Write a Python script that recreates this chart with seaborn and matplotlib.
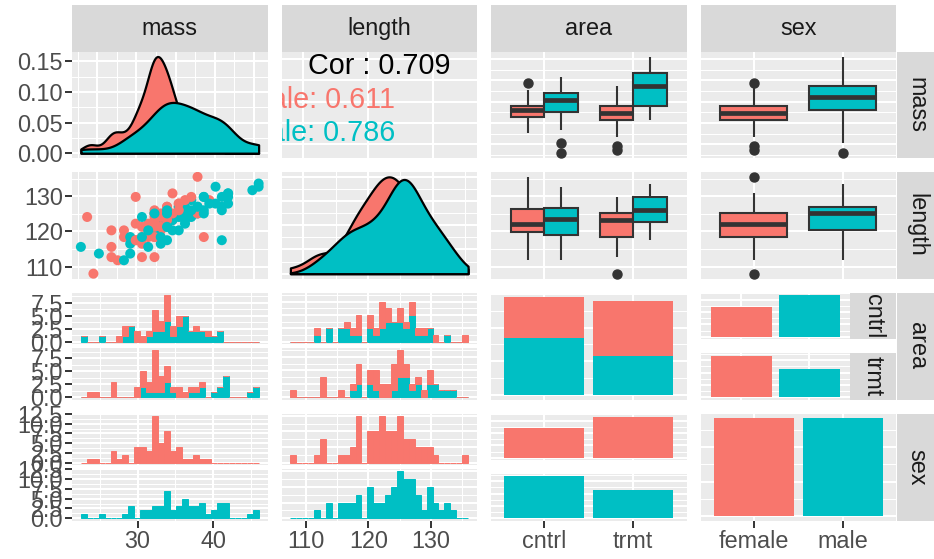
import numpy as np
import pandas as pd
import matplotlib
matplotlib.use("Agg")
import matplotlib.pyplot as plt
import seaborn as sns

# ---------------------------------------------------------------------------
# Data: one entry per individual, grouped by area and sex (mass/length paired)
# ---------------------------------------------------------------------------
cntrl_female_mass = [27.6, 28.4, 28.4, 29.9, 29.9, 30.7, 31.5, 32.3, 32.3, 32.3, 32.3, 33.1,
                     33.1, 33.9, 33.9, 33.9, 33.9, 33.9, 34.6, 34.6, 35.4, 35.4, 37.8, 39.3]
cntrl_female_length = [111.8, 120.3, 118.4, 117.5, 122.2, 116.5, 118.4, 121.3, 125.1, 118.4, 122.2, 123.2,
                       120.3, 122.2, 127.0, 125.1, 122.2, 126.0, 123.2, 130.8, 127.9, 127.0, 135.5, 128.9]

trmt_female_mass = [23.7, 24.5, 26.8, 26.8, 26.8, 29.9, 29.9, 30.7, 30.7, 30.7, 31.5, 31.5,
                    32.3, 32.3, 32.3, 32.3, 32.3, 32.3, 32.3, 32.3, 33.1, 33.1, 33.1, 33.9,
                    33.9, 33.9, 34.6, 35.4, 35.4, 36.2, 37.0, 37.8, 38.6]
trmt_female_length = [124.1, 108.0, 112.7, 115.6, 120.3, 129.8, 117.5, 112.7, 121.3, 118.4, 122.2, 120.3,
                      112.7, 118.4, 121.3, 124.1, 125.1, 123.2, 126.0, 122.2, 124.1, 125.1, 121.3, 127.0,
                      123.2, 124.1, 125.1, 126.0, 127.9, 128.9, 129.8, 125.1, 118.4]

cntrl_male_mass = [22.9, 25.2, 28.4, 29.2, 29.2, 29.2, 31.5, 32.3, 32.3, 33.1, 33.1, 33.9,
                   33.9, 33.9, 33.9, 34.6, 35.4, 35.4, 35.4, 36.2, 36.2, 36.2, 36.2, 36.2,
                   37.0, 37.0, 37.8, 37.8, 38.6, 38.6, 39.3, 40.1, 40.9, 40.9]
cntrl_male_length = [115.6, 113.7, 111.8, 118.4, 113.7, 116.5, 115.6, 120.3, 122.2, 116.5, 123.2, 117.5,
                     124.1, 121.3, 125.1, 123.2, 124.1, 127.0, 120.3, 125.1, 122.2, 126.0, 127.0, 123.2,
                     124.1, 128.9, 127.0, 125.1, 126.0, 129.8, 127.9, 132.7, 127.0, 129.8]

trmt_male_mass = [30.7, 30.7, 31.5, 32.3, 33.1, 33.9, 33.9, 33.9, 34.6, 37.0, 37.8, 38.6,
                  38.6, 40.1, 40.9, 40.9, 41.7, 41.7, 41.7, 41.7, 44.8, 45.6, 45.6]
trmt_male_length = [118.4, 124.1, 120.3, 125.1, 118.4, 121.3, 125.1, 126.0, 120.3, 126.0, 127.0, 125.1,
                    129.8, 127.9, 117.5, 126.0, 130.8, 127.9, 129.8, 130.8, 131.7, 133.6, 132.7]

sex_levels = ["female", "male"]
area_levels = ["cntrl", "trmt"]
variables = ["mass", "length", "area", "sex"]
cor_overall = 0.709
cor_by_sex = [0.611, 0.786]

records = []
for area, sex, ms, ls in [("cntrl", "female", cntrl_female_mass, cntrl_female_length),
                          ("cntrl", "male", cntrl_male_mass, cntrl_male_length),
                          ("trmt", "female", trmt_female_mass, trmt_female_length),
                          ("trmt", "male", trmt_male_mass, trmt_male_length)]:
    for m, l in zip(ms, ls):
        records.append((m, l, area, sex))
df = pd.DataFrame(records, columns=["mass", "length", "area", "sex"])
df["area"] = pd.Categorical(df["area"], area_levels)
df["sex"] = pd.Categorical(df["sex"], sex_levels)
levels = {"area": area_levels, "sex": sex_levels}

# ---------------------------------------------------------------------------
# Styling
# ---------------------------------------------------------------------------
PAL = {"female": "#F8766D", "male": "#00BFC4"}
BG = "#EBEBEB"
STRIP = "#D9D9D9"
DARK = "#333333"
AXTXT = "#4D4D4D"
STRIPTXT = "#1A1A1A"
FS = 16.8
FS_COR = 20.7

plt.rcParams["font.family"] = ["Liberation Sans", "DejaVu Sans"]

W, H = 934, 559
fig = plt.figure(figsize=(W / 100, H / 100), dpi=100)

COL_X = [(72, 267.5), (281.5, 477), (491, 686.5), (700.5, 896)]
ROW_Y = [(51.7, 158.0), (172.0, 278.5), (292.5, 399.5), (413.5, 520.5)]


def add_axes(x0, x1, y0, y1):
    return fig.add_axes([x0 / W, 1 - y1 / H, (x1 - x0) / W, (y1 - y0) / H])


def expand(lo, hi, f=0.05):
    r = hi - lo
    return (lo - f * r, hi + f * r)


def extended(dmin, dmax, m=5):
    """Wilkinson-style 'extended' tick search (Talbot, Lin & Hanrahan)."""
    Q = [1, 5, 2, 2.5, 4, 3]
    w = [0.25, 0.2, 0.5, 0.05]
    eps = 1e-10
    nq = len(Q)
    if dmax - dmin < eps:
        return [dmin]
    best_score = -2.0
    best = None
    j = 1
    while j < 60:
        for qi, q in enumerate(Q):
            sm = 1 - qi / (nq - 1) - j + 1
            if w[0] * sm + w[1] + w[2] + w[3] < best_score:
                j = 10 ** 9
                break
            k = 2
            while k < 60:
                dm = 2 - (k - 1) / (m - 1) if k >= m else 1
                if w[0] * sm + w[1] + w[2] * dm + w[3] < best_score:
                    break
                delta = (dmax - dmin) / (k + 1) / j / q
                z = int(np.ceil(np.log10(delta)))
                while z < 60:
                    step = j * q * 10.0 ** z
                    r = dmax - dmin
                    span = step * (k - 1)
                    if span > r:
                        half = (span - r) / 2
                        cm = 1 - 0.5 * (2 * half ** 2) / (0.1 * r) ** 2
                    else:
                        cm = 1
                    if w[0] * sm + w[1] * cm + w[2] * dm + w[3] < best_score:
                        break
                    min_start = int(np.floor(dmax / step) * j - (k - 1) * j)
                    max_start = int(np.ceil(dmin / step) * j)
                    for start in range(min_start, max_start + 1):
                        lmin = start * (step / j)
                        lmax = lmin + span
                        rem = lmin % step
                        v = 1 if ((rem < eps or step - rem < eps) and lmin <= 0 <= lmax) else 0
                        s = 1 - qi / (nq - 1) - j + v
                        c = 1 - 0.5 * ((dmax - lmax) ** 2 + (dmin - lmin) ** 2) / (0.1 * r) ** 2
                        rr = (k - 1) / (lmax - lmin)
                        rt = (m - 1) / (max(lmax, dmax) - min(dmin, lmin))
                        g = 2 - max(rr / rt, rt / rr)
                        score = w[0] * s + w[1] * c + w[2] * g + w[3]
                        if score > best_score:
                            best_score = score
                            best = (lmin, lmax, step)
                    z += 1
                k += 1
        j += 1
    lmin, lmax, step = best
    n = int(round((lmax - lmin) / step)) + 1
    return [round(lmin + i * step, 10) for i in range(n)]


def breaks(lim):
    maj = [b for b in extended(lim[0], lim[1]) if lim[0] - 1e-9 <= b <= lim[1] + 1e-9]
    b = list(maj)
    minor = []
    if len(b) >= 2:
        d = b[1] - b[0]
        if lim[0] < b[0]:
            b = [b[0] - d] + b
        if lim[1] > b[-1]:
            b = b + [b[-1] + d]
        minor = [(a + c) / 2 for a, c in zip(b[:-1], b[1:])]
        minor = [v for v in minor if lim[0] <= v <= lim[1]]
    return maj, minor


def fmt(vals):
    for d in range(6):
        if all(abs(v - round(v, d)) < 1e-9 for v in vals):
            return [f"{v:.{d}f}" for v in vals]
    return [f"{v}" for v in vals]


def style(ax, xlim, ylim, xb, yb, left=False, bottom=False, xlabels=None, minor=True):
    ax.set_facecolor(BG)
    for s in ax.spines.values():
        s.set_visible(False)
    ax.set_xlim(*xlim)
    ax.set_ylim(*ylim)
    xmaj, xmin = xb
    ymaj, ymin = yb
    ax.set_xticks(xmaj)
    ax.set_xticklabels(xlabels if xlabels is not None else fmt(xmaj))
    ax.set_yticks(ymaj)
    ax.set_yticklabels(fmt(ymaj))
    ax.set_xticks(xmin if minor else [], minor=True)
    ax.set_yticks(ymin if minor else [], minor=True)
    ax.grid(True, which="major", color="white", linewidth=1.5)
    ax.grid(True, which="minor", color="white", linewidth=0.75)
    ax.set_axisbelow(True)
    ax.tick_params(which="minor", length=0)
    ax.tick_params(which="major", length=4.7, width=1.4, color=DARK,
                   labelsize=FS, labelcolor=AXTXT, pad=1.8)
    ax.tick_params(axis="x", bottom=bottom, labelbottom=bottom)
    ax.tick_params(axis="y", left=left, labelleft=left)
    ax.set_xlabel("")
    ax.set_ylabel("")


def strip(x0, x1, y0, y1, label, rotation=0):
    ax = add_axes(x0, x1, y0, y1)
    ax.set_facecolor(STRIP)
    ax.set_xticks([])
    ax.set_yticks([])
    for s in ax.spines.values():
        s.set_visible(False)
    ax.text(0.5, 0.5, label, transform=ax.transAxes, ha="center", va="center",
            rotation=rotation, fontsize=FS, color=STRIPTXT, clip_on=True)


# scale ranges shared by the continuous variables
rng = {v: (df[v].min(), df[v].max()) for v in ["mass", "length"]}
lim = {v: expand(*rng[v]) for v in rng}
brk = {v: breaks(lim[v]) for v in lim}
DISC_LIM = (-0.6, 1.6)
DISC_B = ([0, 1], [])


def bin_edges(var):
    lo, hi = rng[var]
    wbin = (hi - lo) / 29
    return lo - wbin / 2 + wbin * np.arange(31)


def outline_bars(ax):
    for p in ax.patches:
        p.set_edgecolor(p.get_facecolor())
        p.set_linewidth(0.7)


# ---------------------------------------------------------------------------
# Diagonal densities
# ---------------------------------------------------------------------------
def density_panel(ax, var, left=False):
    lo, hi = rng[var]
    for sex in sex_levels:
        x = df.loc[df["sex"] == sex, var].to_numpy()
        sd = x.std(ddof=1)
        q75, q25 = np.percentile(x, [75, 25])
        bw = 0.9 * min(sd, (q75 - q25) / 1.34) * len(x) ** -0.2
        sns.kdeplot(x=x, ax=ax, bw_method=bw / sd, cut=30, clip=(lo, hi), gridsize=512,
                    fill=True, color=PAL[sex], alpha=1, edgecolor="black", linewidth=1.6)
    peak = max(p.vertices[:, 1].max() for c in ax.collections for p in c.get_paths())
    ylim = expand(0, peak)
    style(ax, lim[var], ylim, brk[var], breaks(ylim), left=left)


ax = add_axes(*COL_X[0], *ROW_Y[0])
density_panel(ax, "mass", left=True)

ax = add_axes(*COL_X[1], *ROW_Y[1])
density_panel(ax, "length")

# ---------------------------------------------------------------------------
# Correlation text panel
# ---------------------------------------------------------------------------
ax = add_axes(*COL_X[1], *ROW_Y[0])
style(ax, lim["length"], lim["mass"], brk["length"], brk["mass"], minor=False)
ax.text(0.5, 0.862, f"Cor : {cor_overall:.3f}", transform=ax.transAxes, ha="center",
        va="center", fontsize=FS_COR, color="black", clip_on=True)
for sex, r, yy in zip(sex_levels, cor_by_sex, [0.543, 0.237]):
    ax.text(0.58, yy, f"{sex}: {r:.3f}", transform=ax.transAxes, ha="right", va="center",
            fontsize=FS_COR, color=PAL[sex], clip_on=True)

# ---------------------------------------------------------------------------
# Scatter
# ---------------------------------------------------------------------------
ax = add_axes(*COL_X[0], *ROW_Y[1])
sns.scatterplot(data=df, x="mass", y="length", hue="sex", hue_order=sex_levels, palette=PAL,
                s=52, linewidth=0, alpha=1, legend=False, ax=ax)
style(ax, lim["mass"], lim["length"], brk["mass"], brk["length"], left=True)

# ---------------------------------------------------------------------------
# Box plots
# ---------------------------------------------------------------------------
def box_panel(ax, xvar, yvar):
    sns.boxplot(data=df, x=xvar, y=yvar, hue="sex", order=levels[xvar], hue_order=sex_levels,
                palette=PAL, width=0.75, saturation=1, linecolor=DARK, linewidth=1.5,
                dodge=(xvar != "sex"), legend=False, ax=ax, showcaps=False,
                medianprops=dict(color=DARK, linewidth=3.4),
                whiskerprops=dict(color=DARK, linewidth=1.5),
                flierprops=dict(marker="o", markersize=6.5, markerfacecolor=DARK,
                                markeredgecolor=DARK, linestyle="none"))
    style(ax, DISC_LIM, lim[yvar], DISC_B, brk[yvar])


for r, yvar in enumerate(["mass", "length"]):
    for c, xvar in [(2, "area"), (3, "sex")]:
        ax = add_axes(*COL_X[c], *ROW_Y[r])
        box_panel(ax, xvar, yvar)

# ---------------------------------------------------------------------------
# Faceted histograms
# ---------------------------------------------------------------------------
def hist_facets(col, row, var, facet_var, left=False, bottom=False):
    x0, x1 = COL_X[col]
    y0, y1 = ROW_Y[row]
    mid = (y0 + y1) / 2
    boxes = [(y0, mid - 2), (mid + 2, y1)]
    edges = bin_edges(var)
    xlim = expand(edges[0], edges[-1])
    xb = breaks(xlim)
    top = max(np.histogram(df.loc[df[facet_var] == lev, var], bins=edges)[0].max()
              for lev in levels[facet_var])
    ylim = expand(0, top)
    yb = breaks(ylim)
    for i, lev in enumerate(levels[facet_var]):
        ax = add_axes(x0, x1, *boxes[i])
        sub = df[df[facet_var] == lev]
        if facet_var == "sex":
            sns.histplot(data=sub, x=var, bins=edges, color=PAL[lev], alpha=1,
                         linewidth=0, ax=ax)
        else:
            sns.histplot(data=sub, x=var, hue="sex", hue_order=sex_levels, palette=PAL,
                         bins=edges, multiple="stack", alpha=1, linewidth=0,
                         legend=False, ax=ax)
        outline_bars(ax)
        style(ax, xlim, ylim, xb, yb, left=left, bottom=bottom and i == 1)


hist_facets(0, 2, "mass", "area", left=True)
hist_facets(1, 2, "length", "area")
hist_facets(0, 3, "mass", "sex", left=True, bottom=True)
hist_facets(1, 3, "length", "sex", bottom=True)

# ---------------------------------------------------------------------------
# Bar charts
# ---------------------------------------------------------------------------
# area diagonal: stacked counts
ax = add_axes(*COL_X[2], *ROW_Y[2])
sns.histplot(data=df, x="area", hue="sex", hue_order=sex_levels, palette=PAL, multiple="stack",
             discrete=True, shrink=0.9, alpha=1, linewidth=0, legend=False, ax=ax)
ylim = expand(0, df["area"].value_counts().max())
style(ax, DISC_LIM, ylim, DISC_B, breaks(ylim))

# sex diagonal
ax = add_axes(*COL_X[3], *ROW_Y[3])
sns.countplot(data=df, x="sex", hue="sex", order=sex_levels, hue_order=sex_levels, palette=PAL,
              width=0.9, saturation=1, legend=False, ax=ax)
ylim = expand(0, df["sex"].value_counts().max())
style(ax, DISC_LIM, ylim, DISC_B, breaks(ylim), bottom=True, xlabels=sex_levels)

# sex counts faceted by area (with inner strips)
cross = pd.crosstab(df["area"], df["sex"])
ylim = expand(0, cross.values.max())
yb = breaks(ylim)
x0, x1 = COL_X[3]
y0, y1 = ROW_Y[2]
mid = (y0 + y1) / 2
for i, lev in enumerate(area_levels):
    fy = (y0, mid - 7) if i == 0 else (mid + 7, y1)
    ax = add_axes(x0, 850, *fy)
    sns.countplot(data=df[df["area"] == lev], x="sex", hue="sex", order=sex_levels,
                  hue_order=sex_levels, palette=PAL, width=0.9, saturation=1, legend=False, ax=ax)
    style(ax, DISC_LIM, ylim, DISC_B, yb)
    strip(850, 896, *fy, lev, rotation=270)

# area counts faceted by sex
x0, x1 = COL_X[2]
y0, y1 = ROW_Y[3]
mid = (y0 + y1) / 2
for i, lev in enumerate(sex_levels):
    fy = (y0, mid - 7) if i == 0 else (mid + 7, y1)
    ax = add_axes(x0, x1, *fy)
    sns.countplot(data=df[df["sex"] == lev], x="area", order=area_levels, color=PAL[lev],
                  width=0.9, saturation=1, ax=ax)
    style(ax, DISC_LIM, ylim, DISC_B, yb, bottom=(i == 1), xlabels=area_levels)

# ---------------------------------------------------------------------------
# Strips
# ---------------------------------------------------------------------------
for c, name in enumerate(variables):
    strip(COL_X[c][0], COL_X[c][1], 5, 51.7, name)
for r, name in enumerate(variables):
    strip(896.5, 938, ROW_Y[r][0], ROW_Y[r][1], name, rotation=270)

fig.savefig("out.png", dpi=100)
